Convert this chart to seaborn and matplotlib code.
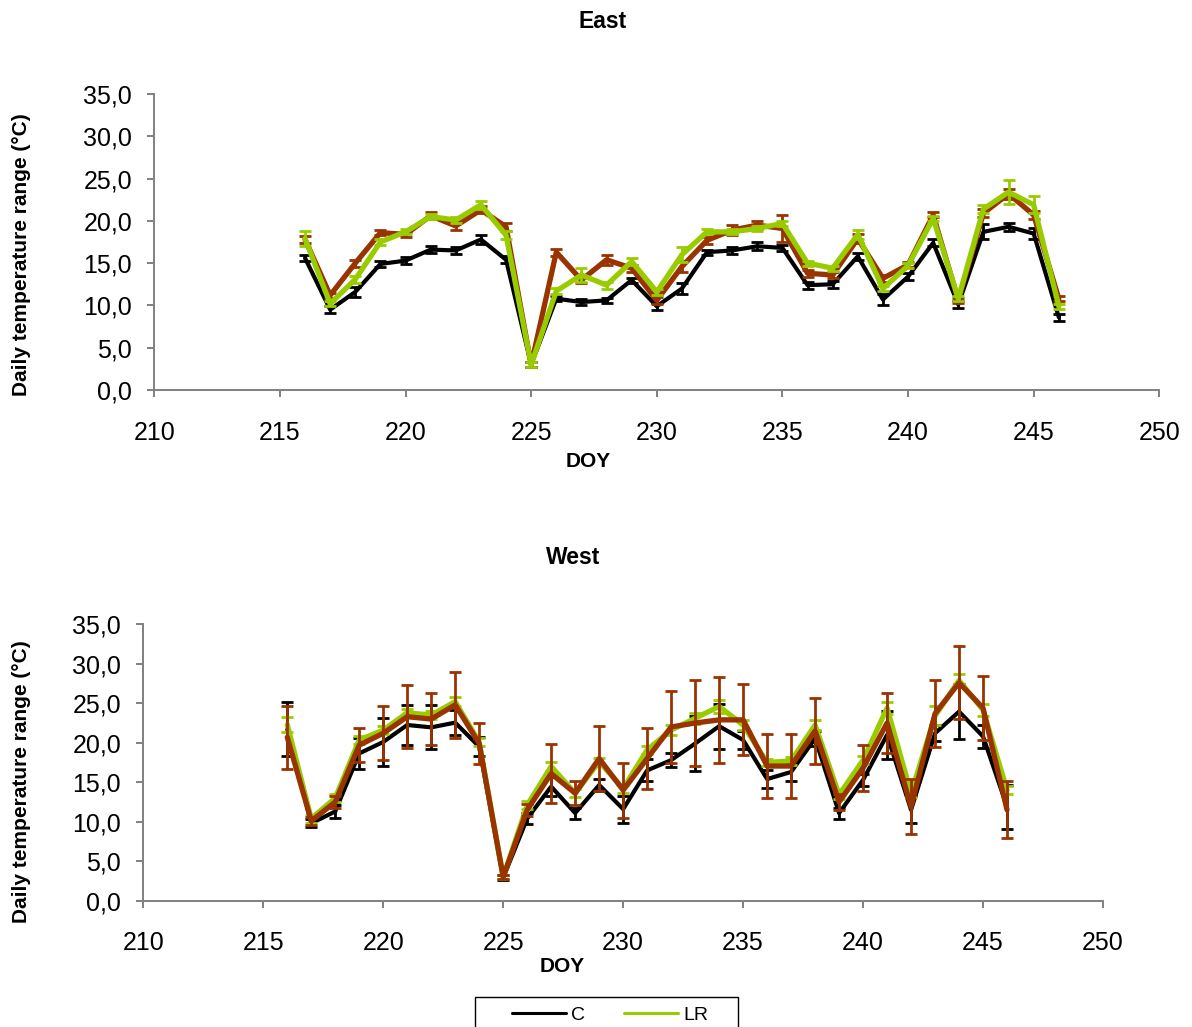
import numpy as np
import pandas as pd
import matplotlib
matplotlib.use("Agg")
import matplotlib.pyplot as plt
from matplotlib.lines import Line2D
from matplotlib.patches import Rectangle
from matplotlib.ticker import FuncFormatter, MultipleLocator
import seaborn as sns

# Day of year
doy = list(range(216, 247))

# East: daily temperature range (°C) per treatment
c_east = [15.6, 9.5, 11.6, 14.9, 15.3, 16.6, 16.5, 17.8, 15.4, 3.0, 10.8, 10.4, 10.6, 13.0, 9.9, 12.0,
          16.3, 16.5, 17.0, 16.8, 12.4, 12.5, 15.8, 10.7, 13.4, 17.4, 10.1, 18.7, 19.3, 18.5, 8.6]
lr_east = [17.9, 10.2, 13.1, 17.5, 18.7, 20.5, 20.1, 21.9, 18.3, 3.0, 11.7, 13.6, 12.4, 15.2, 11.6, 16.0,
           18.7, 18.7, 19.1, 19.7, 15.0, 14.4, 18.4, 12.0, 14.7, 20.3, 10.8, 21.4, 23.4, 21.9, 9.9]
hr_east = [17.8, 11.2, 15.0, 18.6, 18.4, 20.6, 19.4, 21.3, 19.3, 3.0, 16.3, 13.0, 15.4, 14.4, 10.6, 14.6,
           17.7, 18.9, 19.5, 19.1, 13.8, 13.6, 17.9, 13.2, 14.8, 20.7, 10.6, 20.9, 23.2, 20.7, 10.8]

c_east_err = [0.4, 0.4, 0.6, 0.4, 0.4, 0.4, 0.4, 0.5, 0.4, 0.3, 0.3, 0.4, 0.3, 0.3, 0.4, 0.6,
              0.3, 0.4, 0.5, 0.4, 0.4, 0.4, 0.4, 0.6, 0.4, 0.4, 0.4, 0.9, 0.5, 0.6, 0.4]
lr_east_err = [0.9, 0.3, 0.4, 0.4, 0.3, 0.3, 0.3, 0.5, 0.5, 0.3, 0.4, 0.8, 0.4, 0.4, 0.4, 0.9,
               0.3, 0.3, 0.3, 0.3, 0.3, 0.3, 0.5, 0.3, 0.3, 0.3, 0.3, 0.5, 1.4, 1.0, 0.3]
hr_east_err = [0.4, 0.3, 0.4, 0.3, 0.3, 0.4, 0.5, 0.4, 0.5, 0.3, 0.4, 0.4, 0.6, 0.4, 0.4, 0.6,
               0.4, 0.6, 0.5, 1.6, 0.4, 0.4, 0.5, 0.4, 0.3, 0.3, 0.3, 0.5, 0.6, 0.5, 0.3]

# West: daily temperature range (°C) per treatment
c_west = [21.7, 9.8, 11.3, 18.65, 20.1, 22.25, 21.95, 22.55, 19.5, 2.9, 10.4, 14.45, 11.1, 14.65, 11.6, 16.5,
          17.8, 19.9, 22.1, 20.35, 15.4, 16.3, 20.55, 11.1, 15.3, 21.0, 11.5, 21.2, 23.95, 20.8, 11.9]
lr_west = [22.3, 10.4, 13.0, 20.35, 21.6, 23.8, 23.5, 25.2, 20.1, 3.0, 12.1, 17.0, 13.6, 17.6, 14.2, 19.1,
           21.6, 23.1, 24.6, 22.25, 17.5, 17.7, 22.25, 13.4, 17.8, 24.4, 13.6, 23.4, 27.9, 24.15, 14.0]
hr_west = [20.7, 10.1, 12.5, 19.7, 21.2, 23.3, 23.0, 24.8, 19.9, 3.0, 11.5, 16.1, 13.6, 18.0, 14.0, 18.0,
           22.0, 22.5, 22.9, 22.9, 17.05, 17.05, 21.5, 12.5, 16.8, 22.5, 11.9, 23.7, 27.6, 24.4, 11.5]

c_west_err = [3.4, 0.5, 0.8, 2.0, 3.0, 2.5, 2.8, 1.6, 1.2, 0.3, 0.7, 1.2, 0.7, 0.8, 1.7, 1.4,
              0.9, 3.5, 2.85, 1.2, 1.1, 1.1, 1.0, 0.7, 0.8, 3.0, 1.7, 1.0, 3.5, 1.5, 2.8]
lr_west_err = [0.9, 0.5, 0.5, 0.5, 0.5, 0.5, 0.5, 0.6, 0.5, 0.3, 0.5, 0.6, 0.5, 0.5, 0.5, 0.5,
               0.6, 0.7, 0.8, 0.6, 0.5, 0.5, 0.6, 0.5, 0.5, 0.8, 0.5, 1.2, 0.85, 0.7, 0.5]
hr_west_err = [4.0, 0.5, 0.8, 2.15, 3.4, 4.0, 3.3, 4.2, 2.6, 0.3, 0.8, 3.7, 1.5, 4.1, 3.5, 3.9,
               4.6, 5.4, 5.4, 4.5, 4.0, 4.0, 4.2, 1.0, 2.95, 3.8, 3.5, 4.2, 4.6, 4.0, 3.6]

colors = {"C": "#000000", "LR": "#99CC00", "HR": "#993300"}
widths = {"C": 3.0, "LR": 3.8, "HR": 3.8}


def long_table(site, series):
    rows = []
    for name, (vals, errs) in series.items():
        for d, v, e in zip(doy, vals, errs):
            rows.append({"site": site, "treatment": name, "DOY": d, "range": v, "err": e})
    return pd.DataFrame(rows)


east = long_table("East", {"C": (c_east, c_east_err), "HR": (hr_east, hr_east_err),
                           "LR": (lr_east, lr_east_err)})
west = long_table("West", {"C": (c_west, c_west_err), "LR": (lr_west, lr_west_err),
                           "HR": (hr_west, hr_west_err)})

sns.set_theme(style="white")
plt.rcParams["font.family"] = ["Liberation Sans", "DejaVu Sans"]
plt.rcParams["text.color"] = "black"
plt.rcParams["axes.labelcolor"] = "black"
plt.rcParams["xtick.color"] = "black"
plt.rcParams["ytick.color"] = "black"

W, H = 1192, 1027
fig = plt.figure(figsize=(W / 100, H / 100), dpi=100)

ax_e = fig.add_axes([154.3 / W, 1 - 390 / H, (1159.3 - 154.3) / W, (390 - 94) / H])
ax_w = fig.add_axes([143.3 / W, 1 - 900.7 / H, (1103 - 143.3) / W, (900.7 - 624.3) / H])

comma = FuncFormatter(lambda v, p: f"{v:.1f}".replace(".", ","))
axis_grey = "#808080"

for ax, df, order in [(ax_e, east, ["C", "HR", "LR"]), (ax_w, west, ["C", "LR", "HR"])]:
    for k, name in enumerate(order):
        sub = df[df["treatment"] == name]
        sns.lineplot(data=sub, x="DOY", y="range", color=colors[name], linewidth=widths[name],
                     errorbar=None, legend=False, ax=ax, zorder=3 + 2 * k)
        ax.errorbar(sub["DOY"], sub["range"], yerr=sub["err"], fmt="none",
                    ecolor=colors[name], elinewidth=2.0, capsize=4, capthick=2.0,
                    zorder=4 + 2 * k)
    ax.set_xlim(210, 250)
    ax.set_ylim(0, 35)
    ax.xaxis.set_major_locator(MultipleLocator(5))
    ax.yaxis.set_major_locator(MultipleLocator(5))
    ax.yaxis.set_major_formatter(comma)
    ax.set_xlabel("")
    ax.set_ylabel("")
    for side in ["top", "right"]:
        ax.spines[side].set_visible(False)
    for side in ["left", "bottom"]:
        ax.spines[side].set_color(axis_grey)
        ax.spines[side].set_linewidth(1.4)
    ax.tick_params(axis="both", which="major", direction="out", length=5, width=1.4,
                   color=axis_grey, labelsize=18, labelcolor="black")
    ax.tick_params(axis="x", pad=17, bottom=True)
    ax.tick_params(axis="y", pad=11, left=True)
    ax.set_facecolor("white")

# Panel titles, axis labels
fig.text(603 / W, 1 - 22 / H, "East", ha="center", va="center", fontsize=16.5, fontweight="bold")
fig.text(573 / W, 1 - 558 / H, "West", ha="center", va="center", fontsize=16.5, fontweight="bold")
fig.text(588 / W, 1 - 461 / H, "DOY", ha="center", va="center", fontsize=15, fontweight="bold")
fig.text(562 / W, 1 - 967 / H, "DOY", ha="center", va="center", fontsize=15, fontweight="bold")
ylab = "Daily temperature range (°C)"
fig.text(22 / W, 1 - 255 / H, ylab, ha="center", va="center", rotation=90, fontsize=15,
         fontweight="bold")
fig.text(22 / W, 1 - 782 / H, ylab, ha="center", va="center", rotation=90, fontsize=15,
         fontweight="bold")

# Legend
handles = [Line2D([], [], color=colors["C"], linewidth=2.2),
           Line2D([], [], color=colors["LR"], linewidth=2.2)]
fig.legend(handles, ["C", "LR"], loc="center", bbox_to_anchor=(610 / W, 1 - 1015 / H),
           ncol=2, frameon=False, fontsize=14, handlelength=2.8, handletextpad=0.25,
           columnspacing=2.0)
fig.patches.append(Rectangle((475 / W, 1 - 1045 / H), 263 / W, 48 / H, transform=fig.transFigure,
                             fill=False, edgecolor="black", linewidth=1.0))

fig.savefig("out.png", dpi=100, facecolor="white")
